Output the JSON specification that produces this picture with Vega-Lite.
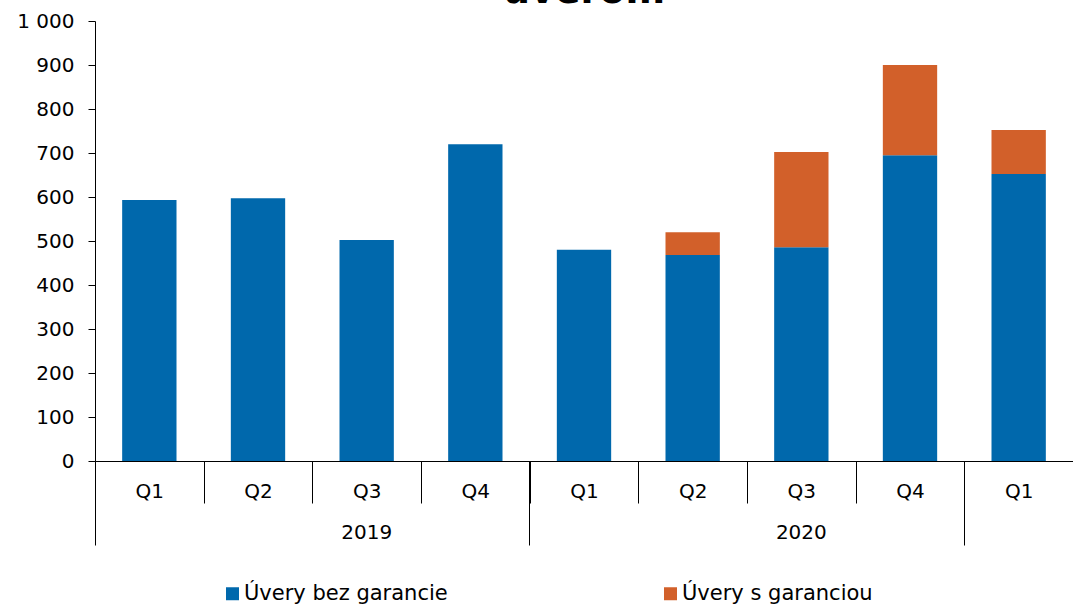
{
  "$schema": "https://vega.github.io/schema/vega-lite/v6.json",
  "width": 978,
  "height": 440,
  "autosize": {"type": "none"},
  "padding": {"left": 95, "top": 21, "right": 0, "bottom": 143},
  "background": "white",
  "config": {
    "font": "DejaVu Sans",
    "view": {"stroke": null}
  },
  "title": {
    "text": "úverom",
    "fontSize": 38,
    "fontWeight": "bold",
    "color": "#000000",
    "anchor": "middle",
    "baseline": "alphabetic",
    "offset": -30
  },
  "data": {
    "values": [
      {"key": "2019 Q1", "series": "Úvery bez garancie", "value": 593},
      {"key": "2019 Q2", "series": "Úvery bez garancie", "value": 597},
      {"key": "2019 Q3", "series": "Úvery bez garancie", "value": 502},
      {"key": "2019 Q4", "series": "Úvery bez garancie", "value": 720},
      {"key": "2020 Q1", "series": "Úvery bez garancie", "value": 480},
      {"key": "2020 Q2", "series": "Úvery bez garancie", "value": 468},
      {"key": "2020 Q2", "series": "Úvery s garanciou", "value": 52},
      {"key": "2020 Q3", "series": "Úvery bez garancie", "value": 486},
      {"key": "2020 Q3", "series": "Úvery s garanciou", "value": 216},
      {"key": "2020 Q4", "series": "Úvery bez garancie", "value": 695},
      {"key": "2020 Q4", "series": "Úvery s garanciou", "value": 205},
      {"key": "2021 Q1", "series": "Úvery bez garancie", "value": 652},
      {"key": "2021 Q1", "series": "Úvery s garanciou", "value": 100}
    ]
  },
  "resolve": {"axis": {"x": "independent"}},
  "layer": [
    {
      "mark": {"type": "bar", "width": {"band": 0.5}},
      "encoding": {
        "x": {
          "field": "key",
          "type": "nominal",
          "sort": null,
          "scale": {"paddingInner": 0, "paddingOuter": 0},
          "axis": {
            "orient": "bottom",
            "title": null,
            "labelAngle": 0,
            "labelExpr": "datum.value ? substring(datum.value, 5) : ''",
            "labelFontSize": 20,
            "labelColor": "#000000",
            "labelPadding": -22,
            "labelBaseline": "top",
            "tickBand": "extent",
            "tickSize": 42,
            "tickColor": "#000000",
            "tickWidth": 1,
            "domainColor": "#000000",
            "domainWidth": 1
          }
        },
        "y": {
          "field": "value",
          "type": "quantitative",
          "stack": "zero",
          "scale": {"domain": [0, 1000], "nice": false},
          "axis": {
            "title": null,
            "values": [0, 100, 200, 300, 400, 500, 600, 700, 800, 900, 1000],
            "labelExpr": "replace(format(datum.value, ','), ',', ' ')",
            "labelFontSize": 20,
            "labelColor": "#000000",
            "labelPadding": 14,
            "tickSize": 7,
            "tickColor": "#000000",
            "domainColor": "#000000",
            "grid": false
          }
        },
        "order": {"field": "series", "sort": "ascending"},
        "color": {
          "field": "series",
          "type": "nominal",
          "scale": {
            "domain": ["Úvery bez garancie", "Úvery s garanciou"],
            "range": ["#0068AC", "#D2602A"]
          },
          "legend": {
            "orient": "none",
            "legendX": 127,
            "legendY": 562,
            "direction": "horizontal",
            "title": null,
            "symbolType": "square",
            "symbolSize": 169,
            "symbolStrokeWidth": 0,
            "labelFontSize": 21,
            "labelLimit": 0,
            "labelColor": "#000000",
            "labelOffset": 1,
            "columnPadding": 212
          }
        }
      }
    },
    {
      "mark": {"type": "rule", "opacity": 0},
      "encoding": {
        "x": {
          "field": "key",
          "type": "nominal",
          "sort": null,
          "axis": {
            "orient": "bottom",
            "title": null,
            "labelAngle": 0,
            "bandPosition": 0,
            "labelExpr": "datum.value == '2019 Q3' ? '2019' : (datum.value == '2020 Q3' ? '2020' : '')",
            "labelFontSize": 20,
            "labelColor": "#000000",
            "labelPadding": -23,
            "labelBaseline": "top",
            "domain": false,
            "tickSize": 84,
            "tickColor": "#000000",
            "tickOpacity": {"condition": {"test": "datum.value == '2019 Q1' || datum.value == '2020 Q1' || datum.value == '2021 Q1'", "value": 1}, "value": 0}
          }
        }
      }
    }
  ]
}
